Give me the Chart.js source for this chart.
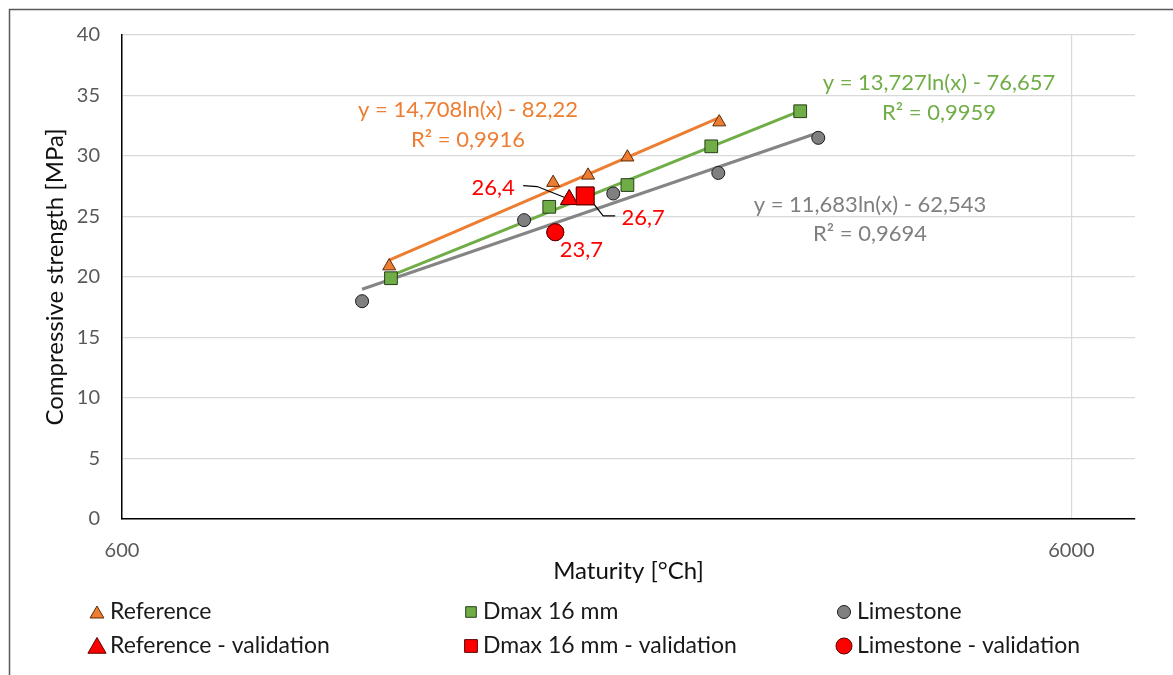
<!DOCTYPE html>
<html><head><meta charset="utf-8">
<script src="https://cdn.jsdelivr.net/npm/chart.js@4"></script>
<style>html,body{margin:0;padding:0;background:#fff;}#wrap{width:1173px;height:675px;position:relative;}</style>
</head><body><div id="wrap"><canvas id="c" width="1173" height="675"></canvas></div>
<script>
// ---- data ----
const refX = [1147, 1707, 1858, 2044, 2554];
const refY = [20.9, 27.8, 28.4, 29.9, 32.8];
const dmaxX = [1152, 1691, 2044, 2505, 3108];
const dmaxY = [19.9, 25.8, 27.6, 30.8, 33.7];
const limeX = [1074, 1591, 1975, 2548, 3247];
const limeY = [18.0, 24.7, 26.9, 28.6, 31.5];
const refValX = [1775], refValY = [26.4];
const dmaxValX = [1845], dmaxValY = [26.7];
const limeValX = [1716], limeValY = [23.7];
// logarithmic trend lines (straight on a log x axis): end points
const refTrendX = [1147, 2554], refTrendY = [21.40, 33.17];
const dmaxTrendX = [1152, 3108], dmaxTrendY = [20.11, 33.73];
const limeTrendX = [1074, 3247], limeTrendY = [18.99, 31.92];
const xTickValues = [600, 6000];
const seriesNames = ['Reference', 'Dmax 16 mm', 'Limestone',
  'Reference - validation', 'Dmax 16 mm - validation', 'Limestone - validation'];
const refEq = ['y = 14,708ln(x) - 82,22', 'R² = 0,9916'];
const dmaxEq = ['y = 13,727ln(x) - 76,657', 'R² = 0,9959'];
const limeEq = ['y = 11,683ln(x) - 62,543', 'R² = 0,9694'];

const FONT = 'Lato';
const pts = (xs, ys) => xs.map((x, i) => ({x: x, y: ys[i]}));
const C = {orange:'#ED7D31', green:'#70AD47', grey:'#808080', red:'#FF0000'};

const markerDs = [
  {label: seriesNames[0], data: pts(refX, refY), pointStyle:'triangle', pointRadius:7.5, backgroundColor:C.orange, borderColor:'#5c2a08'},
  {label: seriesNames[1], data: pts(dmaxX, dmaxY), pointStyle:'rect', pointRadius:9, backgroundColor:C.green, borderColor:'#26401a'},
  {label: seriesNames[2], data: pts(limeX, limeY), pointStyle:'circle', pointRadius:6.5, backgroundColor:C.grey, borderColor:'#1a1a1a'},
  {label: seriesNames[3], data: pts(refValX, refValY), pointStyle:'triangle', pointRadius:10, backgroundColor:C.red, borderColor:'#5a0000'},
  {label: seriesNames[4], data: pts(dmaxValX, dmaxValY), pointStyle:'rect', pointRadius:12.5, backgroundColor:C.red, borderColor:'#5a0000'},
  {label: seriesNames[5], data: pts(limeValX, limeValY), pointStyle:'circle', pointRadius:8.5, backgroundColor:C.red, borderColor:'#5a0000'}
].map(d => Object.assign(d, {showLine:false, pointBorderWidth:1, borderWidth:1, order:1}));

const trendDs = [
  {data: pts(refTrendX, refTrendY), borderColor:C.orange},
  {data: pts(dmaxTrendX, dmaxTrendY), borderColor:C.green},
  {data: pts(limeTrendX, limeTrendY), borderColor:'#858585'}
].map(d => Object.assign(d, {label:'trend', showLine:true, pointRadius:0, borderWidth:3, order:5}));

const decor = {
  id: 'decor',
  afterDraw(chart) {
    const ctx = chart.ctx;
    ctx.save();
    // outer frame
    ctx.strokeStyle = '#595959'; ctx.lineWidth = 1.5;
    ctx.beginPath(); ctx.moveTo(9.5, 675); ctx.lineTo(9.5, 9.5); ctx.lineTo(1173, 9.5); ctx.stroke();

    // trend equations
    ctx.font = '22px ' + FONT; ctx.textAlign = 'center'; ctx.textBaseline = 'middle';
    const eqs = [[refEq, C.orange, 468, 110, 140], [dmaxEq, C.green, 939, 83, 113], [limeEq, '#7f7f7f', 870, 205, 234]];
    eqs.forEach(([t, col, x, y1, y2]) => { ctx.fillStyle = col; ctx.fillText(t[0], x, y1); ctx.fillText(t[1], x, y2); });

    // validation data labels
    const fmt = v => v.toFixed(1).replace('.', ',');
    const lab = [
      {ds:3, v:refValY[0], dx:-76, dy:-12, lead:[[-46,-14],[-32,-13],[-2,-1]]},
      {ds:4, v:dmaxValY[0], dx:58, dy:22, lead:[[30,20],[18,20],[3,1]]},
      {ds:5, v:limeValY[0], dx:26, dy:18, lead:null}
    ];
    lab.forEach(l => {
      const p = chart.getDatasetMeta(l.ds).data[0];
      if (l.lead) {
        ctx.strokeStyle = '#000'; ctx.lineWidth = 1.2; ctx.beginPath();
        l.lead.forEach((o, i) => i ? ctx.lineTo(p.x + o[0], p.y + o[1]) : ctx.moveTo(p.x + o[0], p.y + o[1]));
        ctx.stroke();
      }
      ctx.fillStyle = C.red; ctx.fillText(fmt(l.v), p.x + l.dx, p.y + l.dy);
    });
    // redraw validation markers above the leader lines
    [3,4,5].forEach(i => chart.getDatasetMeta(i).data.forEach(el => el.draw(ctx)));

    // legend
    const cols = [[97, 110], [471, 483], [844, 857]];
    const rows = [612, 646];
    ctx.textAlign = 'left'; ctx.font = '23px ' + FONT;
    markerDs.forEach((d, i) => {
      const [mx, tx] = cols[i % 3]; const y = rows[Math.floor(i / 3)];
      ctx.fillStyle = d.backgroundColor; ctx.strokeStyle = d.borderColor; ctx.lineWidth = 1;
      const r = i < 3 ? (d.pointStyle === 'rect' ? 7.5 : d.pointStyle === 'triangle' ? 8 : 6.5) : (d.pointStyle === 'rect' ? 9 : d.pointStyle === 'triangle' ? 10.5 : 8);
      Chart.helpers.drawPoint(ctx, {pointStyle: d.pointStyle, radius: r, rotation: 0, borderWidth: 1}, mx, y + (d.pointStyle === 'triangle' ? 2 : 0));
      ctx.fillStyle = '#1a1a1a'; ctx.fillText(d.label, tx, y);
    });
    ctx.restore();
  }
};

function build() {
  new Chart(document.getElementById('c'), {
    type: 'scatter',
    data: {datasets: markerDs.concat(trendDs)},
    options: {
      responsive: false, animation: false, devicePixelRatio: 1,
      layout: {padding: {left: 0, top: 35, right: 38, bottom: 86}},
      plugins: {legend: {display: false}, tooltip: {enabled: false}},
      scales: {
        x: {
          type: 'logarithmic', min: 600, max: 7000,
          afterBuildTicks: s => { s.ticks = xTickValues.map(v => ({value: v})); },
          afterFit: s => { s.height = 70; },
          ticks: {callback: v => String(v), color: '#595959', font: {family: FONT, size: 20}, padding: 20, maxRotation: 0, autoSkip: false},
          grid: {color: '#d9d9d9', lineWidth: 1.2, drawTicks: false},
          border: {color: '#000', width: 1.5},
          title: {display: true, text: 'Maturity [°Ch]', color: '#111', font: {family: FONT, size: 24}, padding: {top: 0, bottom: 3}}
        },
        y: {
          min: 0, max: 40,
          afterFit: s => { s.width = 122; },
          ticks: {stepSize: 5, color: '#595959', font: {family: FONT, size: 20}, padding: 22},
          grid: {color: '#d9d9d9', lineWidth: 1.2, drawTicks: false},
          border: {color: '#000', width: 1.5},
          title: {display: true, text: 'Compressive strength [MPa]', color: '#111', font: {family: FONT, size: 24}, padding: {top: 41, bottom: 0}}
        }
      }
    },
    plugins: [decor]
  });
}
if (document.fonts && document.fonts.load) {
  Promise.all([document.fonts.load('22px Lato'), document.fonts.load('24px Lato')]).then(build, build);
} else build();
</script></body></html>
